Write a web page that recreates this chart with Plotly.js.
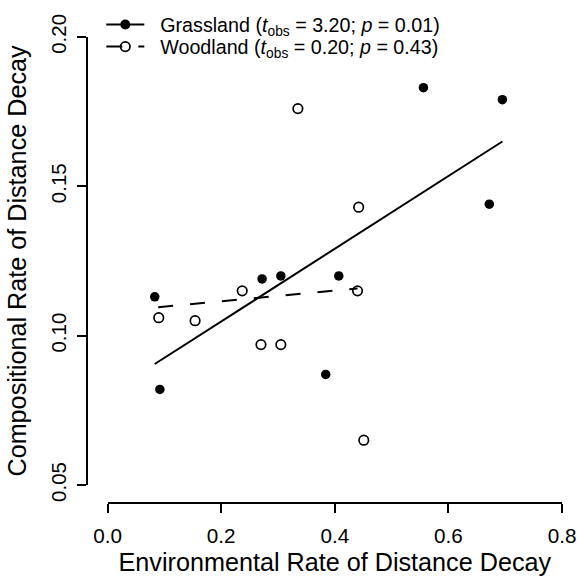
<!DOCTYPE html>
<html>
<head>
<meta charset="utf-8">
<script src="https://cdn.plot.ly/plotly-3.0.1.min.js"></script>
<style>html,body{margin:0;padding:0;background:#fff;}#chart{width:577px;height:578px;}</style>
</head>
<body>
<div id="chart"></div>
<script>
// Grassland points (filled)
const grassX = [0.083, 0.092, 0.272, 0.305, 0.407, 0.384, 0.556, 0.695, 0.672];
const grassY = [0.113, 0.082, 0.119, 0.120, 0.120, 0.087, 0.183, 0.179, 0.144];
// Woodland points (open)
const woodX = [0.335, 0.442, 0.237, 0.440, 0.090, 0.154, 0.270, 0.305, 0.451];
const woodY = [0.176, 0.143, 0.115, 0.115, 0.106, 0.105, 0.097, 0.097, 0.065];
// Fitted regression lines
const grassFitX = [0.083, 0.695];
const grassFitY = [0.0905, 0.1650];
const woodFitX = [0.089, 0.440];
const woodFitY = [0.1095, 0.1158];
// Legend labels
const grassLabel = "Grassland (<i>t</i><sub>obs</sub> = 3.20; <i>p</i> = 0.01)";
const woodLabel = "Woodland (<i>t</i><sub>obs</sub> = 0.20; <i>p</i> = 0.43)";
// Axis ticks
const xTicks = [0.0, 0.2, 0.4, 0.6, 0.8];
const xTickText = ["0.0", "0.2", "0.4", "0.6", "0.8"];
const yTicks = [0.05, 0.10, 0.15, 0.20];
const yTickText = ["0.05", "0.10", "0.15", "0.20"];

const FONT = "Liberation Sans, Arial, Helvetica, sans-serif";
const PAD = "\u00a0\u00a0";

const traces = [
  {x: grassFitX, y: grassFitY, mode: "lines", line: {color: "#000", width: 2}, showlegend: false, hoverinfo: "skip"},
  {x: woodFitX, y: woodFitY, mode: "lines", line: {color: "#000", width: 2, dash: "15px,17px"}, showlegend: false, hoverinfo: "skip"},
  {x: grassX, y: grassY, mode: "markers", marker: {symbol: "circle", size: 9.5, color: "#000"}, showlegend: false},
  {x: woodX, y: woodY, mode: "markers", marker: {symbol: "circle-open", size: 9.5, color: "#000", line: {width: 1.7}}, showlegend: false},
  {x: [null], y: [null], mode: "lines+markers", name: PAD + grassLabel, legend: "legend", line: {color: "#000", width: 2}, marker: {symbol: "circle", size: 10, color: "#000"}},
  {x: [null], y: [null], mode: "lines+markers", name: PAD + woodLabel, legend: "legend2", line: {color: "#000", width: 2, dash: "16px,16px"}, marker: {symbol: "circle-open", size: 9.5, color: "#000", line: {width: 1.7}}}
];

const legendBase = {xanchor: "left", yanchor: "middle", bgcolor: "rgba(0,0,0,0)",
  font: {family: FONT, size: 19.7, color: "#000"}, itemwidth: 38, borderwidth: 0};

const layout = {
  width: 577, height: 578,
  margin: {l: 86.7, r: 15.3, t: 5, b: 74.7, pad: 0},
  paper_bgcolor: "#fff", plot_bgcolor: "#fff",
  font: {family: FONT, color: "#000", size: 18},
  showlegend: true,
  legend: Object.assign({}, legendBase, {x: 0.0301, y: 0.976}),
  legend2: Object.assign({}, legendBase, {x: 0.0301, y: 0.931}),
  xaxis: {
    range: [0, 0.8], domain: [0.0434, 1], anchor: "free", position: 0,
    tickvals: xTicks, ticktext: xTickText, ticks: "outside", ticklen: 9, tickwidth: 2, tickcolor: "#000",
    showline: true, linewidth: 2, linecolor: "#000", showgrid: false, zeroline: false,
    ticklabelstandoff: 5,
    tickfont: {family: FONT, size: 20.7, color: "#000"},
    title: {text: "Environmental Rate of Distance Decay", font: {family: FONT, size: 25.2, color: "#000"}, standoff: 7}
  },
  yaxis: {
    range: [0.05, 0.20], domain: [0.0367, 0.9512], anchor: "free", position: 0,
    tickvals: yTicks, ticktext: yTickText, ticks: "outside", ticklen: 9, tickwidth: 2, tickcolor: "#000",
    showline: true, linewidth: 2, linecolor: "#000", showgrid: false, zeroline: false,
    tickangle: -90, ticklabelstandoff: 3,
    tickfont: {family: FONT, size: 20.5, color: "#000"},
    title: {text: "Compositional Rate of Distance Decay", font: {family: FONT, size: 25.2, color: "#000"}}
  }
};

Plotly.newPlot("chart", traces, layout, {displayModeBar: false, staticPlot: true});
</script>
</body>
</html>
